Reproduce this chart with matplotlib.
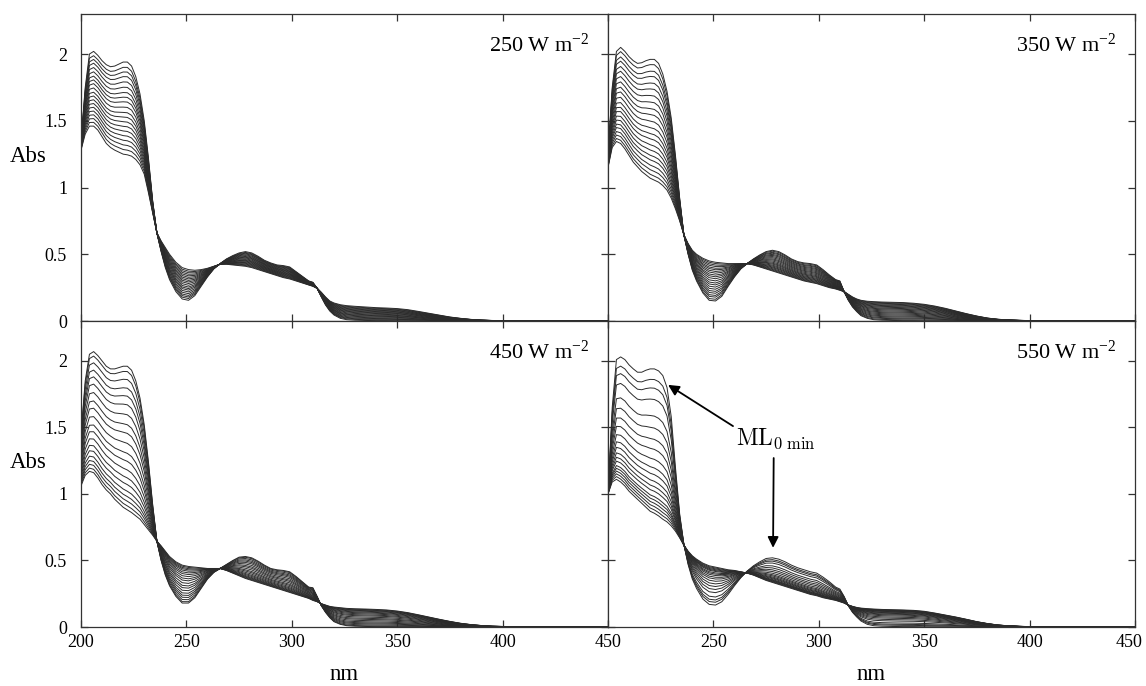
import numpy as np
import matplotlib
matplotlib.use('Agg')
import matplotlib.pyplot as plt
from matplotlib.transforms import ScaledTranslation

plt.rcParams['font.family'] = ['Liberation Serif', 'DejaVu Serif']
plt.rcParams['mathtext.fontset'] = 'custom'
plt.rcParams['mathtext.rm'] = 'Liberation Serif'
plt.rcParams['mathtext.it'] = 'Liberation Serif:italic'

# ---------------- data ----------------
WAVELENGTH = [200, 202, 204, 206, 208, 210, 212, 214, 216, 218, 220, 222, 224, 226, 228,
              230, 232, 234, 236, 238, 240,
              242, 245, 248, 251, 254, 257, 260, 263, 266, 269, 272, 275, 278, 281, 284,
              287, 290, 293, 296, 299, 302, 305, 308,
              310, 312, 314, 316, 318, 320,
              323, 326, 330,
              335, 340, 345, 350, 355, 360, 365, 370, 375, 380, 385, 390, 395, 400,
              410, 420, 435, 450]

TAIL_ZERO = [0.004, 0.003, 0.003, 0.002, 0.002, 0.002, 0.001, 0.001, 0.001, 0.001, 0.0, 0.0, 0.0, 0.0,
             0.0, 0.0, 0.0, 0.0]

# 250 W m-2
INIT_250 = [1.35, 1.75, 2.00, 2.02, 1.99, 1.95, 1.92, 1.905, 1.91, 1.925, 1.94, 1.94, 1.91, 1.83, 1.70,
            1.50, 1.22, 0.90, 0.66, 0.52, 0.40,
            0.31, 0.22, 0.165, 0.155, 0.19, 0.26, 0.33, 0.39, 0.43, 0.465, 0.49, 0.51, 0.52, 0.51, 0.485,
            0.455, 0.435, 0.42, 0.415, 0.405, 0.37, 0.335, 0.30,
            0.29, 0.245, 0.18, 0.12, 0.075, 0.045,
            0.02, 0.01, 0.006] + TAIL_ZERO
FINAL_250 = [1.28, 1.40, 1.46, 1.46, 1.43, 1.38, 1.33, 1.30, 1.28, 1.265, 1.25, 1.245, 1.235, 1.21, 1.17,
             1.10, 0.96, 0.81, 0.66, 0.60, 0.55,
             0.50, 0.44, 0.40, 0.385, 0.38, 0.385, 0.395, 0.41, 0.425, 0.425, 0.42, 0.415, 0.41, 0.40, 0.385,
             0.37, 0.355, 0.34, 0.325, 0.315, 0.30, 0.285, 0.27,
             0.26, 0.245, 0.215, 0.18, 0.15, 0.135,
             0.122, 0.115, 0.11,
             0.105, 0.10, 0.097, 0.093, 0.085, 0.072, 0.058, 0.044, 0.03, 0.02, 0.012, 0.007, 0.004, 0.003,
             0.002, 0.001, 0.001, 0.0]
LEVELS_250 = [1.94, 1.90, 1.865, 1.83, 1.79, 1.75, 1.71, 1.675, 1.64, 1.60, 1.56, 1.525, 1.49, 1.455,
              1.42, 1.385, 1.35, 1.315, 1.28, 1.245]

# 350 W m-2
INIT_350 = [1.25, 1.75, 2.02, 2.05, 2.02, 1.98, 1.95, 1.93, 1.935, 1.95, 1.96, 1.96, 1.93, 1.85, 1.72,
            1.52, 1.24, 0.92, 0.645, 0.50, 0.38,
            0.30, 0.21, 0.155, 0.15, 0.185, 0.26, 0.33, 0.39, 0.43, 0.465, 0.495, 0.52, 0.53, 0.52, 0.495,
            0.465, 0.445, 0.435, 0.43, 0.42, 0.385, 0.345, 0.31,
            0.30, 0.22, 0.155, 0.105, 0.07, 0.04,
            0.02, 0.01, 0.006] + TAIL_ZERO
FINAL_350 = [1.15, 1.30, 1.345, 1.33, 1.29, 1.24, 1.19, 1.155, 1.12, 1.095, 1.07, 1.055, 1.04, 1.015, 0.98,
             0.92, 0.84, 0.75, 0.645, 0.58, 0.53,
             0.50, 0.47, 0.45, 0.44, 0.435, 0.43, 0.43, 0.43, 0.43, 0.42, 0.405, 0.39, 0.375, 0.36, 0.345,
             0.33, 0.315, 0.30, 0.29, 0.28, 0.265, 0.25, 0.24,
             0.23, 0.22, 0.20, 0.18, 0.165, 0.155,
             0.148, 0.145, 0.142,
             0.14, 0.138, 0.133, 0.125, 0.112, 0.095, 0.075, 0.055, 0.037, 0.022, 0.013, 0.008, 0.005, 0.003,
             0.002, 0.002, 0.001, 0.001]
LEVELS_350 = [1.96, 1.92, 1.87, 1.83, 1.78, 1.735, 1.685, 1.635, 1.585, 1.54, 1.49, 1.44, 1.395, 1.355,
              1.31, 1.27, 1.23, 1.195, 1.155, 1.12, 1.085, 1.055]

# 450 W m-2
INIT_450 = [1.45, 1.85, 2.05, 2.07, 2.04, 2.00, 1.96, 1.94, 1.94, 1.95, 1.96, 1.96, 1.93, 1.85, 1.72,
            1.52, 1.24, 0.92, 0.645, 0.50, 0.39,
            0.31, 0.23, 0.18, 0.18, 0.22, 0.29, 0.36, 0.41, 0.44, 0.47, 0.50, 0.525, 0.53, 0.52, 0.495,
            0.465, 0.44, 0.43, 0.425, 0.415, 0.38, 0.34, 0.30,
            0.295, 0.23, 0.16, 0.11, 0.07, 0.04,
            0.02, 0.01, 0.006] + TAIL_ZERO
FINAL_450 = [1.06, 1.14, 1.17, 1.16, 1.12, 1.07, 1.03, 1.00, 0.96, 0.93, 0.90, 0.88, 0.86, 0.835, 0.81,
             0.77, 0.73, 0.69, 0.645, 0.61, 0.57,
             0.53, 0.49, 0.465, 0.455, 0.45, 0.445, 0.44, 0.44, 0.44, 0.425, 0.405, 0.385, 0.365, 0.35, 0.335,
             0.32, 0.305, 0.29, 0.275, 0.26, 0.245, 0.23, 0.215,
             0.20, 0.19, 0.175, 0.165, 0.155, 0.15,
             0.145, 0.14, 0.137,
             0.135, 0.132, 0.128, 0.12, 0.108, 0.092, 0.075, 0.058, 0.042, 0.028, 0.018, 0.011, 0.006, 0.004,
             0.003, 0.002, 0.002, 0.001]
LEVELS_450 = [1.96, 1.92, 1.86, 1.795, 1.735, 1.67, 1.595, 1.52, 1.455, 1.38, 1.305, 1.245, 1.18, 1.12,
              1.07, 1.02, 0.98, 0.945, 0.91, 0.88]

# 550 W m-2
INIT_550 = [1.00, 1.65, 2.01, 2.03, 2.01, 1.97, 1.94, 1.915, 1.915, 1.93, 1.94, 1.94, 1.925, 1.89, 1.80,
            1.58, 1.20, 0.85, 0.62, 0.47, 0.36,
            0.29, 0.21, 0.17, 0.165, 0.19, 0.245, 0.31, 0.37, 0.42, 0.46, 0.49, 0.515, 0.52, 0.51, 0.49,
            0.465, 0.445, 0.43, 0.415, 0.405, 0.375, 0.34, 0.30,
            0.285, 0.23, 0.16, 0.11, 0.075, 0.045,
            0.02, 0.01, 0.006] + TAIL_ZERO
FINAL_550 = [1.00, 1.09, 1.11, 1.09, 1.06, 1.02, 0.99, 0.96, 0.93, 0.90, 0.87, 0.855, 0.835, 0.81, 0.79,
             0.76, 0.72, 0.67, 0.615, 0.57, 0.535,
             0.51, 0.48, 0.46, 0.45, 0.44, 0.43, 0.425, 0.415, 0.405, 0.39, 0.37, 0.35, 0.335, 0.32, 0.305,
             0.29, 0.275, 0.26, 0.245, 0.235, 0.22, 0.21, 0.20,
             0.19, 0.18, 0.165, 0.155, 0.147, 0.142,
             0.138, 0.135, 0.132,
             0.13, 0.128, 0.125, 0.118, 0.105, 0.09, 0.075, 0.058, 0.04, 0.026, 0.015, 0.009, 0.005, 0.003,
             0.002, 0.002, 0.001, 0.001]
LEVELS_550 = [1.94, 1.86, 1.795, 1.71, 1.585, 1.495, 1.41, 1.335, 1.26, 1.195, 1.145, 1.095, 1.055,
              1.02, 0.98, 0.955, 0.93, 0.905, 0.88, 0.855]

PANEL_TITLES = ['250 W m$^{-2}$', '350 W m$^{-2}$', '450 W m$^{-2}$', '550 W m$^{-2}$']
X_TICKS = [200, 250, 300, 350, 400, 450]
Y_TICKS = [0, 0.5, 1, 1.5, 2]
Y_TICK_LABELS = ['0', '0.5', '1', '1.5', '2']
REF_WL = 222   # wavelength at which each curve's level was read

# ---------------- figure ----------------
W, H = 1146, 686
fig = plt.figure(figsize=(W / 100, H / 100), dpi=100)


def box(l, t, r, b):
    return [l / W, 1 - b / H, (r - l) / W, (b - t) / H]


boxes = [box(81, 14, 608, 321), box(608, 14, 1135, 321),
         box(81, 321, 608, 627), box(608, 321, 1135, 627)]
panels = [(INIT_250, FINAL_250, LEVELS_250), (INIT_350, FINAL_350, LEVELS_350),
          (INIT_450, FINAL_450, LEVELS_450), (INIT_550, FINAL_550, LEVELS_550)]

wl = np.array(WAVELENGTH, dtype=float)
iref = WAVELENGTH.index(REF_WL)
axes = []
for k, (bx, (ini, fin, lv)) in enumerate(zip(boxes, panels)):
    ax = fig.add_axes(bx)
    axes.append(ax)
    ini = np.array(ini)
    fin = np.array(fin)
    for level in lv:
        frac = (level - fin[iref]) / (ini[iref] - fin[iref])
        ax.plot(wl, fin + frac * (ini - fin), color='#2b2b2b', lw=0.7, solid_joinstyle='round')
    ax.set_xlim(200, 450)
    ax.set_ylim(0, 2.3)
    ax.set_xticks(X_TICKS)
    ax.set_yticks(Y_TICKS)
    ax.tick_params(direction='in', top=True, right=True, length=5, width=0.9,
                   color='#333333', labelsize=13)
    ax.tick_params(axis='y', pad=10)
    ax.tick_params(axis='x', pad=5)
    for s in ax.spines.values():
        s.set_linewidth(0.9)
        s.set_color('#333333')
    if k % 2 == 0:
        ax.set_yticklabels(Y_TICK_LABELS)
    else:
        ax.tick_params(labelleft=False)
    if k < 2:
        ax.tick_params(labelbottom=False)
    elif k == 2:
        ax.set_xticklabels([str(t) for t in X_TICKS])
    else:
        ax.set_xticklabels([''] + [str(t) for t in X_TICKS[1:]])
    ax.text(0.966, 0.876, PANEL_TITLES[k], transform=ax.transAxes, ha='right',
            va='baseline', fontsize=16)

# keep the last x label of the right panel inside the figure
last = axes[3].get_xticklabels()[-1]
last.set_transform(last.get_transform() + ScaledTranslation(-6 / 100, 0, fig.dpi_scale_trans))

# annotation in 550 panel
ax = axes[3]
arrow = dict(arrowstyle='-|>', color='black', lw=1.3, mutation_scale=16, shrinkA=0, shrinkB=0)
ax.annotate('', xy=(228.5, 1.82), xytext=(259.3, 1.51), arrowprops=arrow)
ax.annotate('', xy=(278.3, 0.595), xytext=(278.6, 1.27), arrowprops=arrow)
ax.text(260.7, 1.365, r'$\mathrm{ML}_{\mathrm{0\ min}}$', fontsize=17, math_fontfamily='cm',
        ha='left', va='baseline')

# axis labels
for yc in (157, 463):
    fig.text(28 / W, 1 - yc / H, 'Abs', ha='center', va='center', fontsize=16.5)
for xc in (344.5, 871.5):
    fig.text(xc / W, 1 - 674 / H, 'nm', ha='center', va='center', fontsize=16.5)

fig.savefig('out.png', dpi=100)
